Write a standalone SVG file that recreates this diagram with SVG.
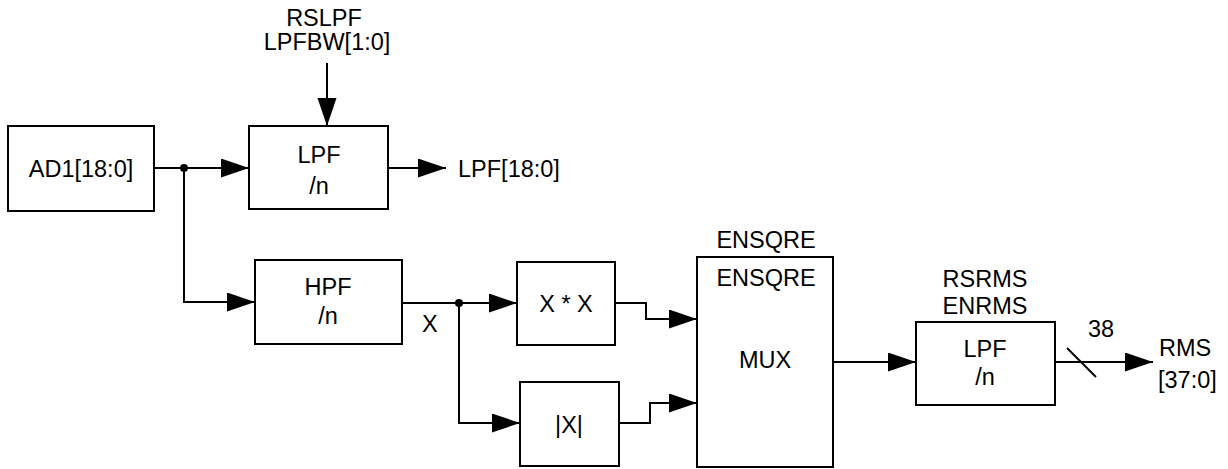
<svg xmlns="http://www.w3.org/2000/svg" width="1228" height="469" viewBox="0 0 1228 469">
<defs>
<marker id="arr" markerUnits="userSpaceOnUse" markerWidth="30" markerHeight="20" refX="28" refY="9.5" orient="auto">
<path d="M0,0 L28,9.5 L0,19 z" fill="#000"/>
</marker>
<style>
.box{fill:#fff;stroke:#000;stroke-width:2}
.w{fill:none;stroke:#000;stroke-width:2}
text{font-family:"Liberation Sans",Arial,sans-serif;font-size:23.5px;fill:#000}
.c{text-anchor:middle}
</style>
</defs>
<rect width="1228" height="469" fill="#fff"/>
<g id="connectors">
<path class="w" d="M154,168 H249" marker-end="url(#arr)"/>
<path class="w" d="M184,168 V302 H255" marker-end="url(#arr)"/>
<circle cx="184" cy="168" r="4" fill="#000"/>
<path class="w" d="M327,63 V126" marker-end="url(#arr)"/>
<path class="w" d="M388,168 H446" marker-end="url(#arr)"/>
<path class="w" d="M402,303 H517" marker-end="url(#arr)"/>
<path class="w" d="M459,303 V423 H520" marker-end="url(#arr)"/>
<circle cx="459" cy="303" r="4" fill="#000"/>
<path class="w" d="M615,303 H646 V319 H697" marker-end="url(#arr)"/>
<path class="w" d="M619,423 H650 V403 H697" marker-end="url(#arr)"/>
<path class="w" d="M833,362 H916" marker-end="url(#arr)"/>
<path class="w" d="M1055,362 H1153" marker-end="url(#arr)"/>
<path class="w" d="M1067,348 L1096,377"/>
<text x="1088" y="337">38</text>
<text x="422" y="332">X</text>
</g>
<g id="ad1">
<rect class="box" x="8" y="126" width="146" height="85"/>
<text class="c" x="81" y="177">AD1[18:0]</text>
</g>
<g id="lpf1">
<rect class="box" x="249" y="126" width="139" height="83"/>
<text class="c" x="319" y="163">LPF</text>
<text class="c" x="319" y="194">/n</text>
<text class="c" x="324" y="26">RSLPF</text>
<text class="c" x="327" y="50">LPFBW[1:0]</text>
</g>
<g id="lpfout">
<text x="458" y="177">LPF[18:0]</text>
</g>
<g id="hpf">
<rect class="box" x="255" y="260" width="147" height="84"/>
<text class="c" x="328" y="295">HPF</text>
<text class="c" x="328" y="324">/n</text>
</g>
<g id="square">
<rect class="box" x="517" y="262" width="98" height="83"/>
<text class="c" x="566" y="312">X * X</text>
</g>
<g id="abs">
<rect class="box" x="520" y="382" width="99" height="84"/>
<text class="c" x="569" y="433">|X|</text>
</g>
<g id="mux">
<rect class="box" x="697" y="257" width="136" height="210"/>
<text class="c" x="766" y="248">ENSQRE</text>
<text class="c" x="766" y="286">ENSQRE</text>
<text class="c" x="765" y="368">MUX</text>
</g>
<g id="lpf2">
<rect class="box" x="916" y="322" width="139" height="83"/>
<text class="c" x="985" y="357">LPF</text>
<text class="c" x="985" y="385">/n</text>
<text class="c" x="985" y="287">RSRMS</text>
<text class="c" x="985" y="314">ENRMS</text>
</g>
<g id="rms">
<text x="1159" y="356">RMS</text>
<text x="1158" y="388">[37:0]</text>
</g>
</svg>
